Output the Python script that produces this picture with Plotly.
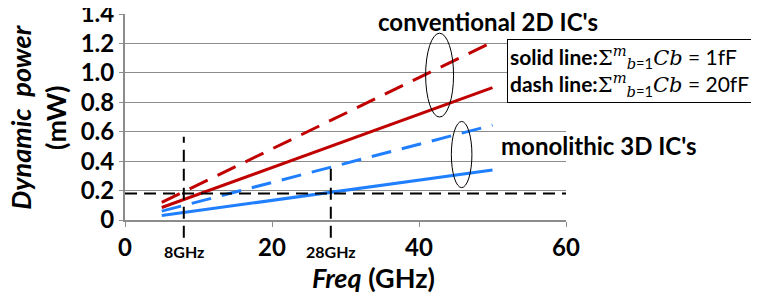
import plotly.graph_objects as go

freq = [5, 50]
red_dash = [0.12, 1.21]
red_solid = [0.085, 0.90]
blue_dash = [0.06, 0.645]
blue_solid = [0.03, 0.34]

x_ticks = [0, 20, 40, 60]
y_ticks = [0, 0.2, 0.4, 0.6, 0.8, 1.0, 1.2, 1.4]
y_ticklabels = ["0", "0.2", "0.4", "0.6", "0.8", "1.0", "1.2", "1.4"]

marker_freqs = [8, 28]
marker_labels = ["8GHz", "28GHz"]
marker_tops = [0.565, 0.39]
marker_bottom = -0.12
power_level = 0.18

RED = "#c00000"
BLUE = "#1f7fff"
FONT = "Lato"

fig = go.Figure()
fig.add_trace(go.Scatter(x=freq, y=red_dash, mode="lines",
                         line=dict(color=RED, width=3, dash="20px,11px")))
fig.add_trace(go.Scatter(x=freq, y=red_solid, mode="lines",
                         line=dict(color=RED, width=3)))
fig.add_trace(go.Scatter(x=freq, y=blue_dash, mode="lines",
                         line=dict(color=BLUE, width=3, dash="20px,11px")))
fig.add_trace(go.Scatter(x=freq, y=blue_solid, mode="lines",
                         line=dict(color=BLUE, width=3)))

ymax = y_ticks[-1]
shapes = []
shapes.append(dict(type="line", xref="x", yref="y", x0=x_ticks[0], x1=x_ticks[-1],
                   y0=power_level, y1=power_level,
                   line=dict(color="black", width=2, dash="12px,7px")))
annotations = []
for f, lab, top in zip(marker_freqs, marker_labels, marker_tops):
    shapes.append(dict(type="line", xref="x", yref="paper", x0=f, x1=f,
                       y0=marker_bottom / ymax, y1=top / ymax,
                       line=dict(color="black", width=2, dash="12px,7px")))
    annotations.append(dict(x=f, xref="x", y=-0.155, yref="paper", text="<b>" + lab + "</b>",
                            showarrow=False, xanchor="center", yanchor="middle",
                            font=dict(family=FONT, size=16, color="black")))

shapes.append(dict(type="circle", xref="x", yref="y", x0=40.9, x1=44.7, y0=0.70, y1=1.27,
                   line=dict(color="black", width=1)))
shapes.append(dict(type="circle", xref="x", yref="y", x0=44.4, x1=47.2, y0=0.22, y1=0.67,
                   line=dict(color="black", width=1)))

annotations.append(dict(x=0.823, xref="paper", y=0.965, yref="paper",
                        text="<b>conventional 2D IC's</b>", showarrow=False,
                        xanchor="center", yanchor="middle",
                        font=dict(family=FONT, size=24, color="black")))
annotations.append(dict(x=1.075, xref="paper", y=0.364, yref="paper",
                        text="<b>monolithic 3D IC's</b>", showarrow=False,
                        xanchor="center", yanchor="middle",
                        font=dict(family=FONT, size=24, color="black")))

MATH = "font-family:'DejaVu Serif';font-style:italic"
sig = ("<span style=\"font-family:'DejaVu Serif'\">Σ</span>"
       "<sup><span style=\"" + MATH + "\">m</span></sup>"
       "<sub><span style=\"" + MATH + "\">b</span>=1</sub>"
       "<span style=\"" + MATH + "\">Cb</span>")
legend_text = ("<b>solid line:</b>" + sig + " = 1fF<br>"
               "<b>dash line:</b>" + sig + " = 20fF")
annotations.append(dict(x=1.144, xref="paper", y=0.723, yref="paper", text=legend_text,
                        showarrow=False, align="left", xanchor="center", yanchor="middle",
                        bordercolor="black", borderwidth=1, borderpad=2, bgcolor="white",
                        font=dict(family=FONT, size=21, color="black")))

annotations.append(dict(x=-0.198, xref="paper", y=0.5, yref="paper",
                        text="<b><i>Dynamic  power</i></b><br><b>(mW)</b>",
                        showarrow=False, textangle=-90, xanchor="center", yanchor="middle",
                        font=dict(family=FONT, size=27, color="black")))
annotations.append(dict(x=0.563, xref="paper", y=-0.277, yref="paper",
                        text="<b><i>Freq</i> (GHz)</b>", showarrow=False,
                        xanchor="center", yanchor="middle",
                        font=dict(family=FONT, size=27, color="black")))

fig.update_layout(
    width=759, height=296,
    margin=dict(l=117, r=201, t=6, b=84),
    paper_bgcolor="white", plot_bgcolor="white",
    showlegend=False,
    shapes=shapes, annotations=annotations,
    font=dict(family=FONT, color="black"),
)
fig.update_xaxes(range=[x_ticks[0], x_ticks[-1]], tickvals=x_ticks, automargin=False,
                 ticktext=["<b>%d</b>" % v for v in x_ticks],
                 showgrid=False, zeroline=False, showline=True, linecolor="#8c8c8c", linewidth=2,
                 ticks="outside", ticklen=5, tickcolor="#8c8c8c",
                 tickfont=dict(family=FONT, size=24, color="black"))
fig.update_yaxes(range=[0, ymax + 0.0005], tickvals=y_ticks, automargin=False,
                 ticktext=["<b>%s</b>" % t for t in y_ticklabels],
                 ticklabeloverflow="allow",
                 showgrid=True, gridcolor="#8c8c8c", gridwidth=1, zeroline=False,
                 showline=True, linecolor="#8c8c8c", linewidth=2,
                 ticks="outside", ticklen=4, tickcolor="#8c8c8c",
                 tickfont=dict(family=FONT, size=24, color="black"))

fig.write_html("out.html")
